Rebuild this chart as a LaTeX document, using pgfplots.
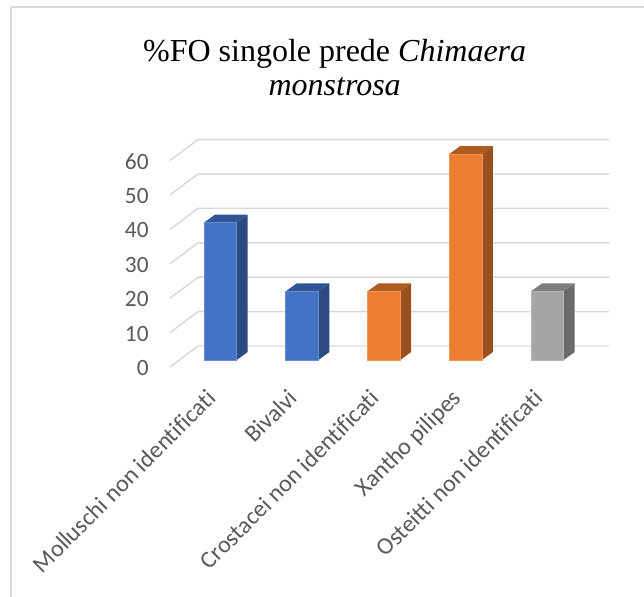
\documentclass[border=0pt]{standalone}
\usepackage{pgfplots}
\pgfplotsset{compat=1.18}
\usepackage{fontspec}
\setmainfont{Liberation Serif}
\newfontfamily\calibri[Ligatures={NoCommon}]{Carlito}
\definecolor{gridc}{HTML}{D9D9D9}
\definecolor{labelc}{HTML}{595959}
\definecolor{blueF}{HTML}{4472C4}
\definecolor{blueT}{HTML}{2F5597}
\definecolor{blueS}{HTML}{2A4A80}
\definecolor{orangeF}{HTML}{ED7D31}
\definecolor{orangeT}{HTML}{B05C20}
\definecolor{orangeS}{HTML}{9A501C}
\definecolor{grayF}{HTML}{A5A5A5}
\definecolor{grayT}{HTML}{7F7F7F}
\definecolor{grayS}{HTML}{6A6A6A}
\begin{document}
\begin{tikzpicture}
\path[use as bounding box, fill=white] (0pt,0pt) rectangle (483pt,447.75pt);
% chart frame
\draw[gridc, line width=1.5pt] (8.5pt,0pt) -- (8.5pt,442.75pt) -- (483pt,442.75pt);
% title
\node[align=center, font=\fontsize{24}{25.5}\selectfont, anchor=center] at (251pt,397pt)
  {\%FO singole prede \textit{Chimaera}\\\textit{monstrosa}};

% walls and floor: value axis with its gridlines
\begin{axis}[
  at={(127.5pt,172.5pt)}, anchor=south west,
  scale only axis, width=329.25pt, height=154.8pt,
  xmin=-0.6159, xmax=4.7541, ymin=0, ymax=60,
  clip=false,
  axis line style={draw=none},
  xtick=\empty,
  ytick={0,10,20,30,40,50,60},
  major tick length=0pt,
  ytick pos=left,
  /pgf/number format/assume math mode=true,
  yticklabel style={font=\calibri\fontsize{17.5}{20}\selectfont, text=labelc, xshift=-12.5pt, yshift=-0.7pt},
]
\addplot[gridc, line width=1.1pt] coordinates {(-0.6159,0)  (-0.2734,6.1)  (4.7541,6.1)};
\addplot[gridc, line width=1.1pt] coordinates {(-0.6159,10) (-0.2734,16.1) (4.7541,16.1)};
\addplot[gridc, line width=1.1pt] coordinates {(-0.6159,20) (-0.2734,26.1) (4.7541,26.1)};
\addplot[gridc, line width=1.1pt] coordinates {(-0.6159,30) (-0.2734,36.1) (4.7541,36.1)};
\addplot[gridc, line width=1.1pt] coordinates {(-0.6159,40) (-0.2734,46.1) (4.7541,46.1)};
\addplot[gridc, line width=1.1pt] coordinates {(-0.6159,50) (-0.2734,56.1) (4.7541,56.1)};
\addplot[gridc, line width=1.1pt] coordinates {(-0.6159,60) (-0.2734,66.1) (4.7541,66.1)};
\end{axis}

% bars with side and top faces
\begin{axis}[
  at={(127.5pt,177.75pt)}, anchor=south west,
  scale only axis, width=329.25pt, height=154.5pt,
  xmin=-0.6159, xmax=4.7541, ymin=0, ymax=60,
  clip=false,
  axis line style={draw=none},
  ytick=\empty,
  xtick={0,1,2,3,4},
  xticklabels={Molluschi non identificati,Bivalvi,Crostacei non identificati,Xantho pilipes,Osteitti non identificati},
  major tick length=0pt,
  xtick pos=bottom,
  xticklabel style={font=\calibri\fontsize{18}{20}\selectfont, text=labelc, rotate=45, anchor=north east, inner sep=0pt, xshift=-22.6pt, yshift=-6.65pt},
]
% side faces
\addplot[fill=blueS, draw=none] coordinates {(0.2,0) (0.3346,2.33) (0.3346,42.33) (0.2,40)} -- cycle;
\addplot[fill=blueS, draw=none] coordinates {(1.2,0) (1.3346,2.33) (1.3346,22.33) (1.2,20)} -- cycle;
\addplot[fill=orangeS, draw=none] coordinates {(2.2,0) (2.3346,2.33) (2.3346,22.33) (2.2,20)} -- cycle;
\addplot[fill=orangeS, draw=none] coordinates {(3.2,0) (3.3346,2.33) (3.3346,62.33) (3.2,60)} -- cycle;
\addplot[fill=grayS, draw=none] coordinates {(4.2,0) (4.3346,2.33) (4.3346,22.33) (4.2,20)} -- cycle;
% top faces
\addplot[fill=blueT, draw=none] coordinates {(-0.2,40) (-0.0654,42.33) (0.3346,42.33) (0.2,40)} -- cycle;
\addplot[fill=blueT, draw=none] coordinates {(0.8,20) (0.9346,22.33) (1.3346,22.33) (1.2,20)} -- cycle;
\addplot[fill=orangeT, draw=none] coordinates {(1.8,20) (1.9346,22.33) (2.3346,22.33) (2.2,20)} -- cycle;
\addplot[fill=orangeT, draw=none] coordinates {(2.8,60) (2.9346,62.33) (3.3346,62.33) (3.2,60)} -- cycle;
\addplot[fill=grayT, draw=none] coordinates {(3.8,20) (3.9346,22.33) (4.3346,22.33) (4.2,20)} -- cycle;
% front faces
\addplot[ybar, bar width=24.5pt, bar shift=0pt, fill=blueF, draw=blueF!80!white, line width=0.4pt]
  coordinates {(0,40) (1,20)};
\addplot[ybar, bar width=24.5pt, bar shift=0pt, fill=orangeF, draw=orangeF!80!white, line width=0.4pt]
  coordinates {(2,20) (3,60)};
\addplot[ybar, bar width=24.5pt, bar shift=0pt, fill=grayF, draw=grayF!80!white, line width=0.4pt]
  coordinates {(4,20)};
\end{axis}
\end{tikzpicture}
\end{document}
